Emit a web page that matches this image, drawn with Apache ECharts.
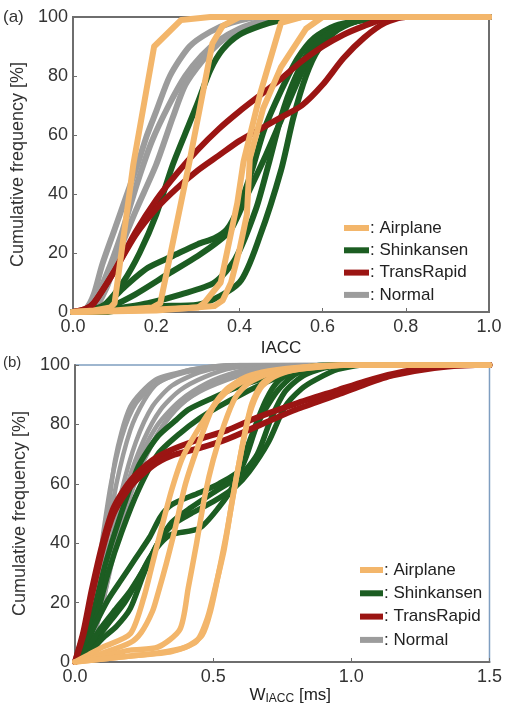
<!DOCTYPE html>
<html>
<head>
<meta charset="utf-8">
<script src="https://cdn.jsdelivr.net/npm/echarts@6/dist/echarts.min.js"></script>
<style>
html,body{margin:0;padding:0;background:#fff;}
#chart{width:505px;height:709px;}
</style>
</head>
<body>
<div id="chart"></div>
<script>
// ---------- Panel (a): IACC ----------
const aXTicks = [0.0, 0.2, 0.4, 0.6, 0.8, 1.0];
const yTicks = [0, 20, 40, 60, 80, 100];
const categories = ['Airplane', 'Shinkansen', 'TransRapid', 'Normal'];

const aNormal1 = [[0,0],[0.03,1],[0.05,6],[0.07,16],[0.1,28],[0.13,40],[0.155,50],[0.178,60],[0.2,68],[0.233,80],[0.28,90],[0.33,95],[0.38,98],[0.45,100],[1,100]];
const aNormal2 = [[0,0],[0.04,1],[0.06,6],[0.09,16],[0.12,28],[0.155,44],[0.19,58],[0.23,70],[0.27,80],[0.31,87],[0.35,92],[0.4,96],[0.45,98.5],[0.5,100],[1,100]];
const aNormal3 = [[0,0],[0.05,1],[0.08,8],[0.11,20],[0.15,34],[0.2,50],[0.24,66],[0.27,77],[0.31,85],[0.35,91],[0.39,95],[0.45,98],[0.52,100],[1,100]];

const aShin1 = [[0,0],[0.05,1],[0.08,3],[0.12,10],[0.16,20],[0.2,33],[0.24,50],[0.28,64],[0.3,71],[0.33,82],[0.36,89],[0.4,94],[0.45,97],[0.5,99],[0.55,100],[1,100]];
const aShin2 = [[0,0],[0.05,0],[0.07,1],[0.12,8],[0.18,15],[0.24,19],[0.3,23],[0.34,25],[0.37,28],[0.4,36],[0.43,48],[0.46,62],[0.5,75],[0.54,86],[0.58,93],[0.63,97],[0.7,99],[0.75,100],[1,100]];
const aShin3 = [[0,0],[0.06,0],[0.08,1],[0.15,6],[0.23,13],[0.3,19],[0.35,24],[0.38,28],[0.42,40],[0.46,52],[0.5,65],[0.53,75],[0.57,87],[0.62,95],[0.68,98.5],[0.75,100],[1,100]];
const aShin4 = [[0,0],[0.08,0],[0.12,1],[0.2,2],[0.3,2.5],[0.4,10],[0.45,26],[0.5,48],[0.53,66],[0.56,80],[0.59,89],[0.63,95],[0.68,98.5],[0.73,100],[1,100]];
const aShin5 = [[0,0],[0.07,0],[0.1,1],[0.18,3],[0.26,6],[0.34,10],[0.39,18],[0.44,35],[0.47,50],[0.5,66],[0.53,78],[0.57,89],[0.62,95],[0.67,98.5],[0.72,100],[1,100]];

const aTrans1 = [[0,0],[0.03,1],[0.05,3],[0.1,14],[0.15,27],[0.2,38],[0.25,47],[0.3,55],[0.35,62],[0.4,68],[0.45,73.5],[0.5,79],[0.55,85],[0.6,90],[0.65,94],[0.7,97],[0.75,99.5],[0.8,100],[1,100]];
const aTrans2 = [[0,0],[0.03,1],[0.05,3],[0.1,14],[0.15,26],[0.2,35],[0.25,42],[0.3,48],[0.35,53],[0.4,58],[0.45,62],[0.5,66],[0.55,70],[0.6,77],[0.65,86],[0.7,93],[0.75,98],[0.8,100],[1,100]];

const aAir1 = [[0,0],[0.05,0.5],[0.09,1.5],[0.1,3],[0.145,50],[0.195,90],[0.26,99],[0.33,100],[1,100]];
const aAir2 = [[0,0],[0.1,0.5],[0.19,1.5],[0.21,3],[0.28,51],[0.335,91],[0.36,97],[0.4,100],[1,100]];
const aAir3 = [[0,0],[0.15,0.5],[0.3,1.5],[0.315,3],[0.355,10],[0.395,37],[0.41,51],[0.45,74],[0.5,98],[0.55,100],[1,100]];
const aAir4 = [[0,0],[0.2,0.5],[0.34,2],[0.36,4],[0.38,10],[0.4,21],[0.418,33],[0.425,52],[0.457,69],[0.5,83],[0.56,96],[0.6,100],[1,100]];

// ---------- Panel (b): W_IACC ----------
const bXTicks = [0.0, 0.5, 1.0, 1.5];

const bNormal1 = [[0,0],[0.02,4],[0.05,14],[0.1,36],[0.145,68],[0.2,86],[0.29,95],[0.4,98],[0.5,99.5],[0.6,100],[1.5,100]];
const bNormal2 = [[0,0],[0.03,4],[0.07,18],[0.11,38],[0.15,60],[0.2,78],[0.25,88],[0.3,94],[0.4,98],[0.5,99.5],[0.6,100],[1.5,100]];
const bNormal3 = [[0,0],[0.03,3],[0.08,18],[0.12,36],[0.17,58],[0.22,74],[0.28,86],[0.35,93],[0.45,97.5],[0.55,99.5],[0.65,100],[1.5,100]];
const bNormal4 = [[0,0],[0.04,4],[0.09,20],[0.14,42],[0.19,60],[0.25,75],[0.31,85],[0.38,91.5],[0.47,96],[0.57,99],[0.7,100],[1.5,100]];
const bNormal5 = [[0,0],[0.04,3],[0.1,20],[0.15,42],[0.2,58],[0.26,70],[0.33,81],[0.4,88],[0.5,94],[0.6,98],[0.75,100],[1.5,100]];
const bNormal6 = [[0,0],[0.05,4],[0.1,20],[0.15,40],[0.2,56],[0.25,68],[0.3,77],[0.36,85],[0.45,91],[0.55,95],[0.65,98],[0.8,100],[1.5,100]];
const bNormal7 = [[0,0],[0.03,5],[0.07,22],[0.1,42],[0.13,60],[0.17,76],[0.22,87],[0.3,94],[0.4,97.5],[0.5,99],[0.6,100],[1.5,100]];
const bNormal8 = [[0,0],[0.04,3],[0.09,16],[0.13,34],[0.18,54],[0.23,68],[0.3,80],[0.38,88],[0.48,94],[0.58,97.5],[0.7,99.5],[0.85,100],[1.5,100]];

const bShin1 = [[0,0],[0.03,5],[0.07,18],[0.11,33],[0.16,48],[0.23,66],[0.3,76],[0.36,81],[0.41,85],[0.5,89],[0.6,93],[0.7,96],[0.8,98.5],[0.9,100],[1.5,100]];
const bShin2 = [[0,0],[0.04,5],[0.08,16],[0.12,30],[0.17,44],[0.23,58],[0.3,70],[0.38,77],[0.45,82],[0.52,86],[0.6,90],[0.7,94.5],[0.8,98],[0.95,100],[1.5,100]];
const bShin3 = [[0,0],[0.03,4],[0.07,12],[0.12,21],[0.17,28],[0.22,35],[0.27,42],[0.31,49],[0.35,53],[0.45,57],[0.52,60],[0.6,65],[0.66,80],[0.73,91],[0.8,97],[0.9,99.5],[1.0,100],[1.5,100]];
const bShin4 = [[0,0],[0.04,3],[0.08,8],[0.13,14],[0.18,20],[0.23,28],[0.27,35],[0.31,40],[0.35,43],[0.45,45],[0.52,52],[0.57,59],[0.63,74],[0.69,88],[0.74,95],[0.82,98.5],[0.95,100],[1.5,100]];
const bShin5 = [[0,0],[0.05,3],[0.1,8],[0.15,12],[0.2,18],[0.25,30],[0.3,40],[0.35,46],[0.42,50],[0.5,54],[0.58,59],[0.63,64],[0.7,74],[0.76,86],[0.82,92],[0.87,95],[0.95,98.5],[1.05,100],[1.5,100]];
const bShin6 = [[0,0],[0.04,4],[0.09,11],[0.14,17],[0.2,24],[0.26,33],[0.3,40],[0.35,47],[0.42,52],[0.5,57],[0.6,63],[0.66,70],[0.71,82],[0.76,91],[0.82,96],[0.9,99],[1.0,100],[1.5,100]];

const bTrans1 = [[0,0],[0.03,10],[0.06,24],[0.1,40],[0.14,52],[0.2,61],[0.28,68],[0.35,71.5],[0.45,75],[0.55,78],[0.65,82],[0.8,87],[0.95,91.5],[1.05,94.5],[1.15,97],[1.3,99.3],[1.45,100],[1.5,100]];
const bTrans2 = [[0,0],[0.03,9],[0.06,22],[0.1,38],[0.14,50],[0.2,59],[0.28,66],[0.35,69.5],[0.45,72],[0.55,75],[0.65,79],[0.8,85],[0.95,90],[1.05,93.5],[1.15,96.5],[1.3,99],[1.45,100],[1.5,100]];

const bAir1 = [[0,0],[0.05,2.5],[0.1,5],[0.2,9.5],[0.25,22],[0.28,33],[0.31,44],[0.35,58],[0.39,69],[0.45,79],[0.5,86],[0.55,91],[0.62,95],[0.7,97.5],[0.8,99],[1.0,100],[1.5,100]];
const bAir2 = [[0,0],[0.1,3],[0.2,6.5],[0.24,10],[0.28,17],[0.3,23],[0.33,33],[0.36,44],[0.4,60],[0.45,74],[0.5,86],[0.55,92],[0.62,96],[0.7,98],[0.85,99.5],[1.0,100],[1.5,100]];
const bAir3 = [[0,0],[0.1,2],[0.2,4],[0.3,5],[0.38,11],[0.41,25],[0.44,40],[0.47,56],[0.5,68],[0.54,80],[0.58,89],[0.63,94],[0.7,97],[0.85,99.5],[1.0,100],[1.5,100]];
const bAir4 = [[0,0],[0.15,1.5],[0.3,3],[0.4,5],[0.46,9],[0.49,17],[0.52,30],[0.55,44],[0.58,60],[0.61,75],[0.64,87],[0.68,94],[0.75,97.5],[0.85,99],[1.0,100],[1.5,100]];
const bAir5 = [[0,0],[0.2,2],[0.35,3.5],[0.44,7],[0.48,15],[0.51,26],[0.54,38],[0.57,55],[0.6,70],[0.63,83],[0.67,92],[0.72,96],[0.8,98.5],[1.0,100],[1.5,100]];

// ---------- styling ----------
const colors = {Airplane:'#f3b66b', Shinkansen:'#1c5d22', TransRapid:'#9b1513', Normal:'#9c9c9c'};
const FONT = 'Liberation Sans, Arial, sans-serif';

function mk(name, data, panel, width, smooth) {
  return {
    type: 'line', name: name, data: data,
    xAxisIndex: panel, yAxisIndex: panel,
    showSymbol: false, symbol: 'none',
    smooth: smooth,
    lineStyle: {color: colors[name], width: width, cap: 'round', join: 'round'},
    itemStyle: {color: colors[name]},
    emphasis: {disabled: true}, silent: true
  };
}

const series = [];
[aNormal1, aNormal2, aNormal3].forEach(d => series.push(mk('Normal', d, 0, 6, 0.25)));
[aShin1, aShin2, aShin3, aShin4, aShin5].forEach(d => series.push(mk('Shinkansen', d, 0, 6, 0.25)));
[aTrans1, aTrans2].forEach(d => series.push(mk('TransRapid', d, 0, 6, 0.25)));
[aAir1, aAir2, aAir3, aAir4].forEach(d => series.push(mk('Airplane', d, 0, 6, false)));

[bNormal1, bNormal2, bNormal3, bNormal4, bNormal5, bNormal6, bNormal7, bNormal8].forEach(d => series.push(mk('Normal', d, 1, 4.5, 0.25)));
[bShin1, bShin2, bShin3, bShin4, bShin5, bShin6].forEach(d => series.push(mk('Shinkansen', d, 1, 5.5, 0.25)));
[bTrans1, bTrans2].forEach(d => series.push(mk('TransRapid', d, 1, 6, 0.25)));
[bAir1, bAir2, bAir3, bAir4, bAir5].forEach(d => series.push(mk('Airplane', d, 1, 5.5, 0.25)));

function xAxisDef(idx, ticks, name, namePad, gap) {
  return {
    type: 'value', gridIndex: idx,
    min: ticks[0], max: ticks[ticks.length - 1], interval: ticks[1] - ticks[0],
    name: name, nameLocation: 'middle', nameGap: gap,
    nameTextStyle: {fontFamily: FONT, fontSize: 17, color: '#222', padding: namePad,
      rich: {sub: {fontFamily: FONT, fontSize: 12, color: '#222', verticalAlign: 'bottom', padding: [6,0,0,0]}}},
    axisLine: {show: true, onZero: false, lineStyle: {color: '#6e6e6e', width: 2}},
    axisTick: {show: true, inside: true, length: 4, lineStyle: {color: '#6e6e6e', width: 1}},
    axisLabel: {fontFamily: FONT, fontSize: 18, color: '#333', margin: 6, formatter: v => v.toFixed(1)},
    splitLine: {show: false}
  };
}
function yAxisDef(idx) {
  return {
    type: 'value', gridIndex: idx, min: 0, max: 100, interval: 20,
    name: 'Cumulative frequency [%]', nameLocation: 'middle', nameGap: 31,
    nameTextStyle: {fontFamily: FONT, fontSize: 18, color: '#333'},
    axisLine: {show: true, onZero: false, lineStyle: {color: '#6e6e6e', width: 2}},
    axisTick: {show: true, inside: true, length: 4, lineStyle: {color: '#6e6e6e', width: 1}},
    axisLabel: {fontFamily: FONT, fontSize: 18, color: '#333', margin: 5},
    splitLine: {show: false}
  };
}

const legendCommon = {
  orient: 'vertical', data: categories,
  icon: 'rect', itemHeight: 6,
  formatter: n => ': ' + n,
  textStyle: {fontFamily: FONT, fontSize: 17, color: '#222', lineHeight: 18, padding: [0,0,0,-4]},
  selectedMode: false, padding: 0
};

const option = {
  animation: false,
  backgroundColor: '#ffffff',
  grid: [
    {left: 73, top: 17, width: 416, height: 295, show: true, borderColor: '#6e6e6e', borderWidth: 2, backgroundColor: 'transparent'},
    {left: 75, top: 365, width: 416, height: 297, show: true, borderColor: '#7f9ec0', borderWidth: 1.5, backgroundColor: 'transparent'}
  ],
  xAxis: [
    xAxisDef(0, aXTicks, 'IACC', [0,0,0,0], 28),
    xAxisDef(1, bXTicks, 'W{sub|IACC} [ms]', [0,0,0,16], 17)
  ],
  yAxis: [yAxisDef(0), yAxisDef(1)],
  legend: [
    Object.assign({}, legendCommon, {left: 344, top: 219, itemWidth: 25, itemGap: 4.3}),
    Object.assign({}, legendCommon, {left: 360, top: 561, itemWidth: 23, itemGap: 5.3})
  ],
  graphic: [
    {type: 'text', left: 3, top: 9, style: {text: '(a)', font: '17px ' + FONT, fill: '#333'}},
    {type: 'text', left: 3, top: 355, style: {text: '(b)', font: '15px ' + FONT, fill: '#333'}}
  ],
  series: series
};

const chart = echarts.init(document.getElementById('chart'), null, {renderer: 'canvas'});
chart.setOption(option);
</script>
</body>
</html>
